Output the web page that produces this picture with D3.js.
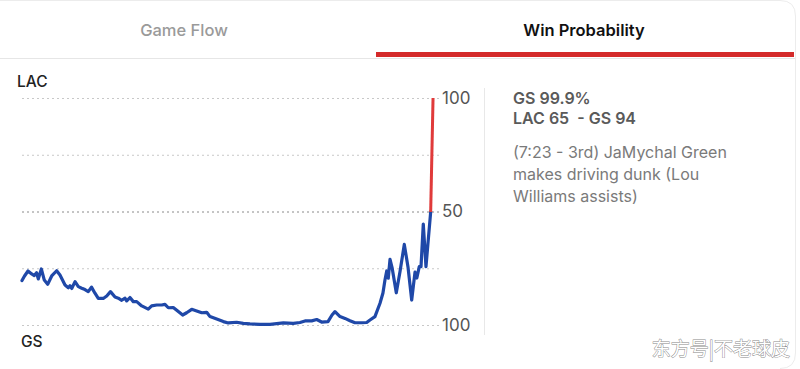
<!DOCTYPE html>
<html>
<head>
<meta charset="utf-8">
<script src="https://cdn.jsdelivr.net/npm/d3@7"></script>
<style>
  html, body { margin: 0; padding: 0; background: #fff; }
  svg { display: block; font-family: Inter, Roboto, "Noto Sans", sans-serif; }
</style>
</head>
<body>
<svg id="chart" width="800" height="369"></svg>
<script>
// game minute (x) and LAC-side win probability (y, 0 = GS wins, 100 = LAC wins)
const gameMinute = [0, 0.29, 0.69, 1.11, 1.41, 1.67, 1.87, 2.22, 2.56, 2.95, 3.41, 3.98, 4.36, 4.94, 5.32, 5.51,
  5.71, 6.09, 6.47, 6.86, 7.23, 7.61, 7.98, 8.38, 8.76, 9.33, 9.73, 10.16, 10.68, 11.06, 11.45, 11.83,
  12.02, 12.40, 12.78, 13.17, 13.75, 14.50, 14.89, 15.47, 16.04, 16.42, 16.80, 17.37, 17.95, 18.45,
  18.91, 19.49, 20.06, 20.64, 21.21, 21.59, 22.36, 23.12, 23.69, 24.65, 25.41, 26.18, 27.33, 28.48,
  30.01, 31.15, 31.92, 32.50, 33.27, 33.84, 34.41, 35.14, 35.60, 35.94, 36.52, 37.09, 37.66, 38.24,
  39.01, 39.58, 39.96, 40.53, 41.11, 41.45, 41.68, 41.88, 42.06, 42.26, 42.51, 42.98, 43.41, 43.90,
  44.32, 44.75, 45.13, 45.34, 45.62, 45.82, 46.08, 46.39, 46.65, 46.93, 47.20];
const lacWinPct = [19.6, 21.6, 23.8, 22.5, 21.8, 23.0, 20.3, 24.7, 19.8, 17.9, 21.6, 23.9, 22.0, 17.6, 16.4, 17.3,
  16.1, 19.1, 16.9, 16.2, 15.6, 14.7, 16.7, 14.0, 11.7, 11.7, 12.8, 14.7, 12.3, 11.8, 10.9, 11.8,
  10.6, 12.1, 10.3, 10.3, 8.4, 7.0, 8.4, 8.8, 8.8, 9.1, 7.6, 7.7, 5.9, 4.4,
  5.4, 6.9, 6.2, 5.4, 5.6, 3.7, 2.6, 1.5, 0.9, 1.2, 0.7, 0.5, 0.3, 0.3,
  0.9, 0.7, 1.1, 1.8, 1.8, 2.4, 1.3, 1.5, 4.4, 5.9, 3.7, 2.9, 1.9, 1.0,
  1.0, 1.1, 2.2, 3.7, 9.6, 14.1, 19.8, 23.8, 20.6, 28.9, 25.0, 14.2, 23.6, 35.5,
  25.7, 11.0, 23.3, 20.7, 25.7, 25.7, 44.5, 25.7, 37.4, 49.8, 100.0];
const gridValues = [0, 25, 50, 75, 100];
const tickValues = [0, 50, 100];
const tickLabels = ["100", "50", "100"];
const tabs = ["Game Flow", "Win Probability"];
const infoBold = ["GS 99.9%", "LAC 65  - GS 94"];
const infoText = ["(7:23 - 3rd) JaMychal Green", "makes driving dunk (Lou", "Williams assists)"];

const svg = d3.select("#chart");

// card edge on the right
svg.append("path")
  .attr("d", "M0,0.5 H780 Q795.5,0.5 795.5,16 V353 Q795.5,368.5 780,368.5")
  .attr("fill", "none").attr("stroke", "#ececec").attr("stroke-width", 1);

// tabs
svg.append("line").attr("x1", 0).attr("x2", 795).attr("y1", 58.5).attr("y2", 58.5)
  .attr("stroke", "#e6e6e6");
svg.append("rect").attr("x", 376).attr("y", 52).attr("width", 418).attr("height", 5).attr("fill", "#d42a2a");
svg.selectAll(".tab").data(tabs).enter().append("text")
  .attr("x", (d, i) => i === 0 ? 184 : 584)
  .attr("y", 36)
  .attr("text-anchor", "middle")
  .attr("font-size", 16.5)
  .attr("font-weight", (d, i) => i === 0 ? 500 : 600)
  .attr("fill", (d, i) => i === 0 ? "#9a9a9a" : "#111")
  .text(d => d);

const x = d3.scaleLinear().domain([0, 48]).range([22, 440]);
const y = d3.scaleLinear().domain([0, 100]).range([325, 98]);

// dashed gridlines
svg.selectAll(".grid").data(gridValues).enter().append("line")
  .attr("x1", x(0)).attr("x2", x(48))
  .attr("y1", d => y(d) + 0.5).attr("y2", d => y(d) + 0.5)
  .attr("stroke", d => d === 50 ? "#8a8a8a" : "#c8c8c8")
  .attr("stroke-dasharray", "2,3");

// right labels through an axis
const axis = svg.append("g")
  .attr("transform", "translate(440,0)")
  .call(d3.axisRight(y).tickValues(tickValues).tickSize(0).tickPadding(2)
    .tickFormat((d, i) => tickLabels[i]));
axis.select(".domain").remove();
axis.selectAll("text").attr("font-size", 17).attr("fill", "#555")
  .attr("font-family", "Inter, Roboto, sans-serif");

// team labels
svg.append("text").attr("x", 17).attr("y", 87).attr("font-size", 15.5).attr("font-weight", 500)
  .attr("fill", "#222").text("LAC");
svg.append("text").attr("x", 21).attr("y", 347).attr("font-size", 15.5).attr("font-weight", 500)
  .attr("fill", "#222").text("GS");

// win probability line
const pts = gameMinute.map((t, i) => [t, lacWinPct[i]]);
const line = d3.line().x(d => x(d[0])).y(d => y(d[1]));
svg.append("path").datum(pts.slice(0, pts.length - 1))
  .attr("fill", "none").attr("stroke", "#1f48a8").attr("stroke-width", 3.2)
  .attr("stroke-linejoin", "round").attr("stroke-linecap", "round")
  .attr("d", line);
svg.append("path").datum(pts.slice(pts.length - 2))
  .attr("fill", "none").attr("stroke", "#e03a3a").attr("stroke-width", 3)
  .attr("d", line);

// separator
svg.append("line").attr("x1", 484.5).attr("x2", 484.5).attr("y1", 88).attr("y2", 335)
  .attr("stroke", "#e8e8e8");

// play info
svg.selectAll(".bold").data(infoBold).enter().append("text")
  .attr("x", 513).attr("y", (d, i) => 104 + i * 20)
  .attr("font-size", 16).attr("font-weight", 600).attr("fill", "#5a5a5a")
  .style("white-space", "pre")
  .text(d => d);
svg.selectAll(".info").data(infoText).enter().append("text")
  .attr("x", 513).attr("y", (d, i) => 158 + i * 22)
  .attr("font-size", 16).attr("fill", "#7a7a7a")
  .text(d => d);

// watermark
svg.append("text").attr("x", 790).attr("y", 356).attr("text-anchor", "end")
  .attr("font-family", "'Noto Sans CJK SC', sans-serif").attr("font-size", 19)
  .attr("fill", "#fff").attr("stroke", "#888").attr("stroke-width", 0.9)
  .attr("paint-order", "stroke")
  .text("东方号|不老球皮");
</script>
</body>
</html>
